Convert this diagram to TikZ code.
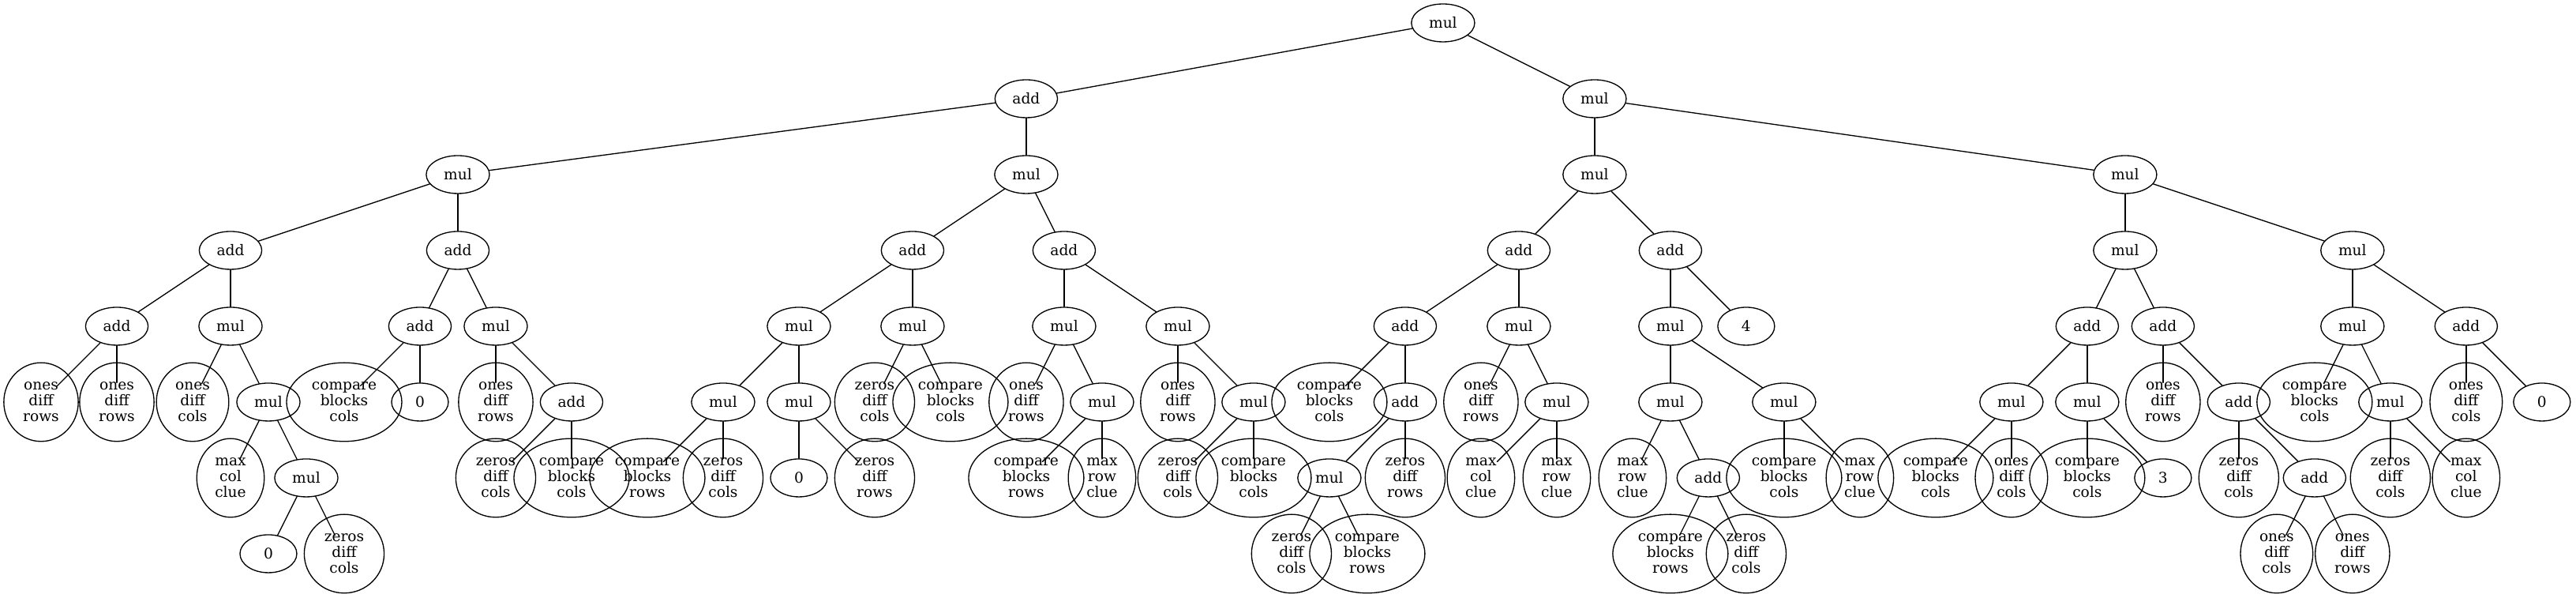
\documentclass[tikz,border=0pt]{standalone}
\usepackage{fontspec}
\setmainfont{DejaVu Serif}
\usetikzlibrary{shapes}
\begin{document}
\begin{tikzpicture}[x=1in,y=-1in,line width=1pt,line cap=round,
  op/.style={draw,ellipse,inner xsep=0.11in,inner ysep=0.055in,minimum width=0.75in,minimum height=0.5in,font=\fontsize{14}{15}\selectfont},
  hub/.style={ellipse,inner sep=0pt,minimum width=0.75in,minimum height=0.5in},
  leaf/.style={draw,ellipse,align=center,inner xsep=0.11in,inner ysep=0.055in,minimum height=75pt,font=\fontsize{14}{15}\selectfont}]
\useasboundingbox (-0.5417,-0.302) rectangle (33.45,7.583);
% level 0 to 4
\node[op] (n0x37) at (18.5,0) {mul};
\node[op] (n1x26) at (13,1) {add};
\node[op] (n1x41) at (20.5,1) {mul};
\node[op] (n2x11) at (5.5,2) {mul};
\node[op] (n2x26) at (13,2) {mul};
\node[op] (n2x41) at (20.5,2) {mul};
\node[op] (n2x55) at (27.5,2) {mul};
\node[op] (n3x5) at (2.5,3) {add};
\node[op] (n3x11) at (5.5,3) {add};
\node[op] (n3x23) at (11.5,3) {add};
\node[op] (n3x27) at (13.5,3) {add};
\node[op] (n3x39) at (19.5,3) {add};
\node[op] (n3x43) at (21.5,3) {add};
\node[op] (n3x55) at (27.5,3) {mul};
\node[op] (n3x61) at (30.5,3) {mul};
\node[op] (n4x2) at (1,4) {add};
\node[op] (n4x5) at (2.5,4) {mul};
\node[op] (n4x10) at (5,4) {add};
\node[op] (n4x12) at (6,4) {mul};
\node[op] (n4x20) at (10,4) {mul};
\node[op] (n4x23) at (11.5,4) {mul};
\node[op] (n4x27) at (13.5,4) {mul};
\node[op] (n4x30) at (15,4) {mul};
\node[op] (n4x36) at (18,4) {add};
\node[op] (n4x39) at (19.5,4) {mul};
\node[op] (n4x43) at (21.5,4) {mul};
\node[op] (n4x45) at (22.5,4) {4};
\node[op] (n4x54) at (27,4) {add};
\node[op] (n4x56) at (28,4) {add};
\node[op] (n4x61) at (30.5,4) {mul};
\node[op] (n4x64) at (32,4) {add};
% level 5
\node[hub] (n5x0) at (0,5) {}; \node[leaf] (t5x0) at (n5x0) {ones\\diff\\rows};
\node[hub] (n5x2) at (1,5) {}; \node[leaf] (t5x2) at (n5x2) {ones\\diff\\rows};
\node[hub] (n5x4) at (2,5) {}; \node[leaf] (t5x4) at (n5x4) {ones\\diff\\cols};
\node[op] (n5x6) at (3,5) {mul};
\node[hub] (n5x8) at (4,5) {}; \node[leaf] (t5x8) at (n5x8) {compare\\blocks\\cols};
\node[op] (n5x10) at (5,5) {0};
\node[hub] (n5x12) at (6,5) {}; \node[leaf] (t5x12) at (n5x12) {ones\\diff\\rows};
\node[op] (n5x14) at (7,5) {add};
\node[op] (n5x18) at (9,5) {mul};
\node[op] (n5x20) at (10,5) {mul};
\node[hub] (n5x22) at (11,5) {}; \node[leaf] (t5x22) at (n5x22) {zeros\\diff\\cols};
\node[hub] (n5x24) at (12,5) {}; \node[leaf] (t5x24) at (n5x24) {compare\\blocks\\cols};
\node[hub] (n5x26) at (13,5) {}; \node[leaf] (t5x26) at (n5x26) {ones\\diff\\rows};
\node[op] (n5x28) at (14,5) {mul};
\node[hub] (n5x30) at (15,5) {}; \node[leaf] (t5x30) at (n5x30) {ones\\diff\\rows};
\node[op] (n5x32) at (16,5) {mul};
\node[hub] (n5x34) at (17,5) {}; \node[leaf] (t5x34) at (n5x34) {compare\\blocks\\cols};
\node[op] (n5x36) at (18,5) {add};
\node[hub] (n5x38) at (19,5) {}; \node[leaf] (t5x38) at (n5x38) {ones\\diff\\rows};
\node[op] (n5x40) at (20,5) {mul};
\node[op] (n5x43) at (21.5,5) {mul};
\node[op] (n5x46) at (23,5) {mul};
\node[op] (n5x52) at (26,5) {mul};
\node[op] (n5x54) at (27,5) {mul};
\node[hub] (n5x56) at (28,5) {}; \node[leaf] (t5x56) at (n5x56) {ones\\diff\\rows};
\node[op] (n5x58) at (29,5) {add};
\node[hub] (n5x60) at (30,5) {}; \node[leaf] (t5x60) at (n5x60) {compare\\blocks\\cols};
\node[op] (n5x62) at (31,5) {mul};
\node[hub] (n5x64) at (32,5) {}; \node[leaf] (t5x64) at (n5x64) {ones\\diff\\cols};
\node[op] (n5x66) at (33,5) {0};
% level 6
\node[hub] (n6x5) at (2.5,6) {}; \node[leaf] (t6x5) at (n6x5) {max\\col\\clue};
\node[op] (n6x7) at (3.5,6) {mul};
\node[hub] (n6x12) at (6,6) {}; \node[leaf] (t6x12) at (n6x12) {zeros\\diff\\cols};
\node[hub] (n6x14) at (7,6) {}; \node[leaf] (t6x14) at (n6x14) {compare\\blocks\\cols};
\node[hub] (n6x16) at (8,6) {}; \node[leaf] (t6x16) at (n6x16) {compare\\blocks\\rows};
\node[hub] (n6x18) at (9,6) {}; \node[leaf] (t6x18) at (n6x18) {zeros\\diff\\cols};
\node[op] (n6x20) at (10,6) {0};
\node[hub] (n6x22) at (11,6) {}; \node[leaf] (t6x22) at (n6x22) {zeros\\diff\\rows};
\node[hub] (n6x26) at (13,6) {}; \node[leaf] (t6x26) at (n6x26) {compare\\blocks\\rows};
\node[hub] (n6x28) at (14,6) {}; \node[leaf] (t6x28) at (n6x28) {max\\row\\clue};
\node[hub] (n6x30) at (15,6) {}; \node[leaf] (t6x30) at (n6x30) {zeros\\diff\\cols};
\node[hub] (n6x32) at (16,6) {}; \node[leaf] (t6x32) at (n6x32) {compare\\blocks\\cols};
\node[op] (n6x34) at (17,6) {mul};
\node[hub] (n6x36) at (18,6) {}; \node[leaf] (t6x36) at (n6x36) {zeros\\diff\\rows};
\node[hub] (n6x38) at (19,6) {}; \node[leaf] (t6x38) at (n6x38) {max\\col\\clue};
\node[hub] (n6x40) at (20,6) {}; \node[leaf] (t6x40) at (n6x40) {max\\row\\clue};
\node[hub] (n6x42) at (21,6) {}; \node[leaf] (t6x42) at (n6x42) {max\\row\\clue};
\node[op] (n6x44) at (22,6) {add};
\node[hub] (n6x46) at (23,6) {}; \node[leaf] (t6x46) at (n6x46) {compare\\blocks\\cols};
\node[hub] (n6x48) at (24,6) {}; \node[leaf] (t6x48) at (n6x48) {max\\row\\clue};
\node[hub] (n6x50) at (25,6) {}; \node[leaf] (t6x50) at (n6x50) {compare\\blocks\\cols};
\node[hub] (n6x52) at (26,6) {}; \node[leaf] (t6x52) at (n6x52) {ones\\diff\\cols};
\node[hub] (n6x54) at (27,6) {}; \node[leaf] (t6x54) at (n6x54) {compare\\blocks\\cols};
\node[op] (n6x56) at (28,6) {3};
\node[hub] (n6x58) at (29,6) {}; \node[leaf] (t6x58) at (n6x58) {zeros\\diff\\cols};
\node[op] (n6x60) at (30,6) {add};
\node[hub] (n6x62) at (31,6) {}; \node[leaf] (t6x62) at (n6x62) {zeros\\diff\\cols};
\node[hub] (n6x64) at (32,6) {}; \node[leaf] (t6x64) at (n6x64) {max\\col\\clue};
% level 7
\node[op] (n7x6) at (3,7) {0};
\node[hub] (n7x8) at (4,7) {}; \node[leaf] (t7x8) at (n7x8) {zeros\\diff\\cols};
\node[hub] (n7x33) at (16.5,7) {}; \node[leaf] (t7x33) at (n7x33) {zeros\\diff\\cols};
\node[hub] (n7x35) at (17.5,7) {}; \node[leaf] (t7x35) at (n7x35) {compare\\blocks\\rows};
\node[hub] (n7x43) at (21.5,7) {}; \node[leaf] (t7x43) at (n7x43) {compare\\blocks\\rows};
\node[hub] (n7x45) at (22.5,7) {}; \node[leaf] (t7x45) at (n7x45) {zeros\\diff\\cols};
\node[hub] (n7x59) at (29.5,7) {}; \node[leaf] (t7x59) at (n7x59) {ones\\diff\\cols};
\node[hub] (n7x61) at (30.5,7) {}; \node[leaf] (t7x61) at (n7x61) {ones\\diff\\rows};
% edges
\draw (n0x37) -- (n1x26); \draw (n0x37) -- (n1x41);
\draw (n1x26) -- (n2x11); \draw (n1x26) -- (n2x26);
\draw (n1x41) -- (n2x41); \draw (n1x41) -- (n2x55);
\draw (n2x11) -- (n3x5); \draw (n2x11) -- (n3x11);
\draw (n2x26) -- (n3x23); \draw (n2x26) -- (n3x27);
\draw (n2x41) -- (n3x39); \draw (n2x41) -- (n3x43);
\draw (n2x55) -- (n3x55); \draw (n2x55) -- (n3x61);
\draw (n3x5) -- (n4x2); \draw (n3x5) -- (n4x5);
\draw (n3x11) -- (n4x10); \draw (n3x11) -- (n4x12);
\draw (n3x23) -- (n4x20); \draw (n3x23) -- (n4x23);
\draw (n3x27) -- (n4x27); \draw (n3x27) -- (n4x30);
\draw (n3x39) -- (n4x36); \draw (n3x39) -- (n4x39);
\draw (n3x43) -- (n4x43); \draw (n3x43) -- (n4x45);
\draw (n3x55) -- (n4x54); \draw (n3x55) -- (n4x56);
\draw (n3x61) -- (n4x61); \draw (n3x61) -- (n4x64);
\draw (n4x2) -- (n5x0); \draw (n4x2) -- (n5x2);
\draw (n4x5) -- (n5x4); \draw (n4x5) -- (n5x6);
\draw (n4x10) -- (n5x8); \draw (n4x10) -- (n5x10);
\draw (n4x12) -- (n5x12); \draw (n4x12) -- (n5x14);
\draw (n4x20) -- (n5x18); \draw (n4x20) -- (n5x20);
\draw (n4x23) -- (n5x22); \draw (n4x23) -- (n5x24);
\draw (n4x27) -- (n5x26); \draw (n4x27) -- (n5x28);
\draw (n4x30) -- (n5x30); \draw (n4x30) -- (n5x32);
\draw (n4x36) -- (n5x34); \draw (n4x36) -- (n5x36);
\draw (n4x39) -- (n5x38); \draw (n4x39) -- (n5x40);
\draw (n4x43) -- (n5x43); \draw (n4x43) -- (n5x46);
\draw (n4x54) -- (n5x52); \draw (n4x54) -- (n5x54);
\draw (n4x56) -- (n5x56); \draw (n4x56) -- (n5x58);
\draw (n4x61) -- (n5x60); \draw (n4x61) -- (n5x62);
\draw (n4x64) -- (n5x64); \draw (n4x64) -- (n5x66);
\draw (n5x6) -- (n6x5); \draw (n5x6) -- (n6x7);
\draw (n5x14) -- (n6x12); \draw (n5x14) -- (n6x14);
\draw (n5x18) -- (n6x16); \draw (n5x18) -- (n6x18);
\draw (n5x20) -- (n6x20); \draw (n5x20) -- (n6x22);
\draw (n5x28) -- (n6x26); \draw (n5x28) -- (n6x28);
\draw (n5x32) -- (n6x30); \draw (n5x32) -- (n6x32);
\draw (n5x36) -- (n6x34); \draw (n5x36) -- (n6x36);
\draw (n5x40) -- (n6x38); \draw (n5x40) -- (n6x40);
\draw (n5x43) -- (n6x42); \draw (n5x43) -- (n6x44);
\draw (n5x46) -- (n6x46); \draw (n5x46) -- (n6x48);
\draw (n5x52) -- (n6x50); \draw (n5x52) -- (n6x52);
\draw (n5x54) -- (n6x54); \draw (n5x54) -- (n6x56);
\draw (n5x58) -- (n6x58); \draw (n5x58) -- (n6x60);
\draw (n5x62) -- (n6x62); \draw (n5x62) -- (n6x64);
\draw (n6x7) -- (n7x6); \draw (n6x7) -- (n7x8);
\draw (n6x34) -- (n7x33); \draw (n6x34) -- (n7x35);
\draw (n6x44) -- (n7x43); \draw (n6x44) -- (n7x45);
\draw (n6x60) -- (n7x59); \draw (n6x60) -- (n7x61);
\end{tikzpicture}
\end{document}
